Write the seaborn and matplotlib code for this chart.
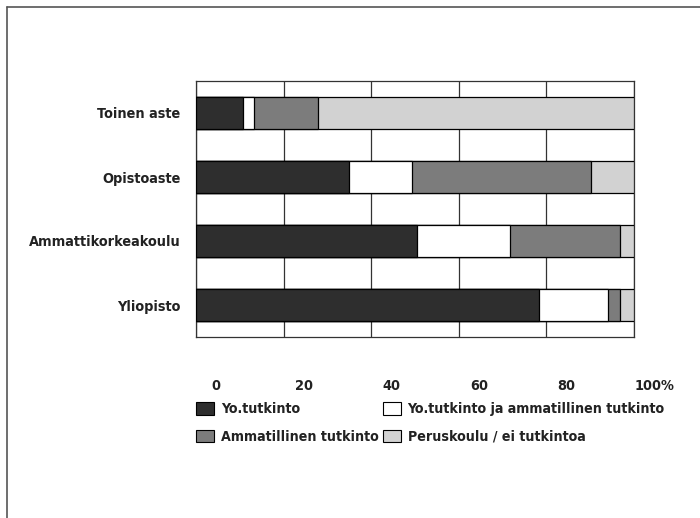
import numpy as np
import pandas as pd
import matplotlib
matplotlib.use("Agg")
import matplotlib.pyplot as plt
import matplotlib.transforms as mtransforms
from matplotlib.lines import Line2D
from matplotlib.patches import Patch
from matplotlib import font_manager
import seaborn as sns

# Data (shares in %)
categories = ["Toinen aste", "Opistoaste", "Ammattikorkeakoulu", "Yliopisto"]
series_names = ["Yo.tutkinto", "Yo.tutkinto ja ammatillinen tutkinto",
                "Ammatillinen tutkinto", "Peruskoulu / ei tutkintoa"]
yo = [10.8, 35.0, 50.5, 78.3]
yo_amm = [2.5, 14.3, 21.2, 15.7]
amm = [14.5, 40.9, 25.0, 2.7]
perus = [72.2, 9.8, 3.3, 3.3]

colors = ["#2e2e2e", "#ffffff", "#7c7c7c", "#d2d2d2"]

sns.set_style("white")

# look for a condensed bold face, otherwise plain DejaVu Sans
cond = None
for f in font_manager.fontManager.ttflist:
    nm = (f.name + " " + f.fname).lower()
    narrow = ("narrow" in nm or "condensed" in nm or "cond" in str(f.stretch))
    if narrow and str(f.weight) in ("bold", "700", "600", "semibold") and "mono" not in nm and "serif" not in f.name.lower():
        cond = f.fname
        break
if cond:
    fp = font_manager.FontProperties(fname=cond, size=10.4)
    fp_leg = font_manager.FontProperties(fname=cond, size=10.2)
else:
    fp = font_manager.FontProperties(family="DejaVu Sans", weight="bold", size=9)
    fp_leg = font_manager.FontProperties(family="DejaVu Sans", weight="bold", size=8.6)
plt.rcParams["font.family"] = ["DejaVu Sans"]

df = pd.DataFrame({"kategoria": categories, "s1": yo, "s2": yo_amm, "s3": amm, "s4": perus})
cum = df[["s1", "s2", "s3", "s4"]].cumsum(axis=1)

fig = plt.figure(figsize=(7, 5.18), dpi=100)
ax = fig.add_axes([196 / 700, 1 - 337 / 518, 438 / 700, 256 / 518])

# stacked bars: draw the cumulative totals from the largest down
for col, color in zip(["s4", "s3", "s2", "s1"], colors[::-1]):
    sns.barplot(x=cum[col], y=df["kategoria"], orient="h", color=color,
                width=0.5, edgecolor="black", linewidth=0.9, ax=ax, zorder=3)

ax.set_xlim(0, 100)
ax.set_ylim(3.5, -0.5)
ax.set_xlabel("")
ax.set_ylabel("")
ax.set_xticks([0, 20, 40, 60, 80, 100])
ax.set_xticklabels(["0", "20", "40", "60", "80", "100%"])
ax.xaxis.grid(True, color="#333333", linewidth=0.9, zorder=0)
ax.set_axisbelow(True)
for s in ax.spines.values():
    s.set_visible(True)
    s.set_color("#333333")
    s.set_linewidth(0.9)
ax.tick_params(axis="both", length=0)
ax.tick_params(axis="x", pad=30)
ax.tick_params(axis="y", pad=11)
for lab in ax.get_xticklabels() + ax.get_yticklabels():
    lab.set_fontproperties(fp)
    lab.set_color("#222222")
offset = mtransforms.ScaledTranslation(0.2, 0, fig.dpi_scale_trans)
for lab in ax.get_xticklabels():
    lab.set_transform(lab.get_transform() + offset)

handles = [Patch(facecolor=colors[0], edgecolor="black", linewidth=0.8, label=series_names[0]),
           Patch(facecolor=colors[2], edgecolor="black", linewidth=0.8, label=series_names[2]),
           Patch(facecolor=colors[1], edgecolor="black", linewidth=0.8, label=series_names[1]),
           Patch(facecolor=colors[3], edgecolor="black", linewidth=0.8, label=series_names[3])]
leg = fig.legend(handles=handles, ncol=2, loc="upper left",
                 bbox_to_anchor=(196 / 700, 1 - 402 / 518), frameon=False,
                 borderpad=0, borderaxespad=0, handlelength=1.3, handleheight=1.0,
                 handletextpad=0.45, columnspacing=0.3, labelspacing=0.95,
                 prop=fp_leg)
for t in leg.get_texts():
    t.set_color("#222222")

# outer frame (left and top edges)
fig.add_artist(Line2D([7 / 700, 7 / 700], [0, 1 - 7 / 518], color="#555555", linewidth=1.2))
fig.add_artist(Line2D([7 / 700, 1], [1 - 7 / 518, 1 - 7 / 518], color="#555555", linewidth=1.2))

fig.savefig("out.png", dpi=100)
